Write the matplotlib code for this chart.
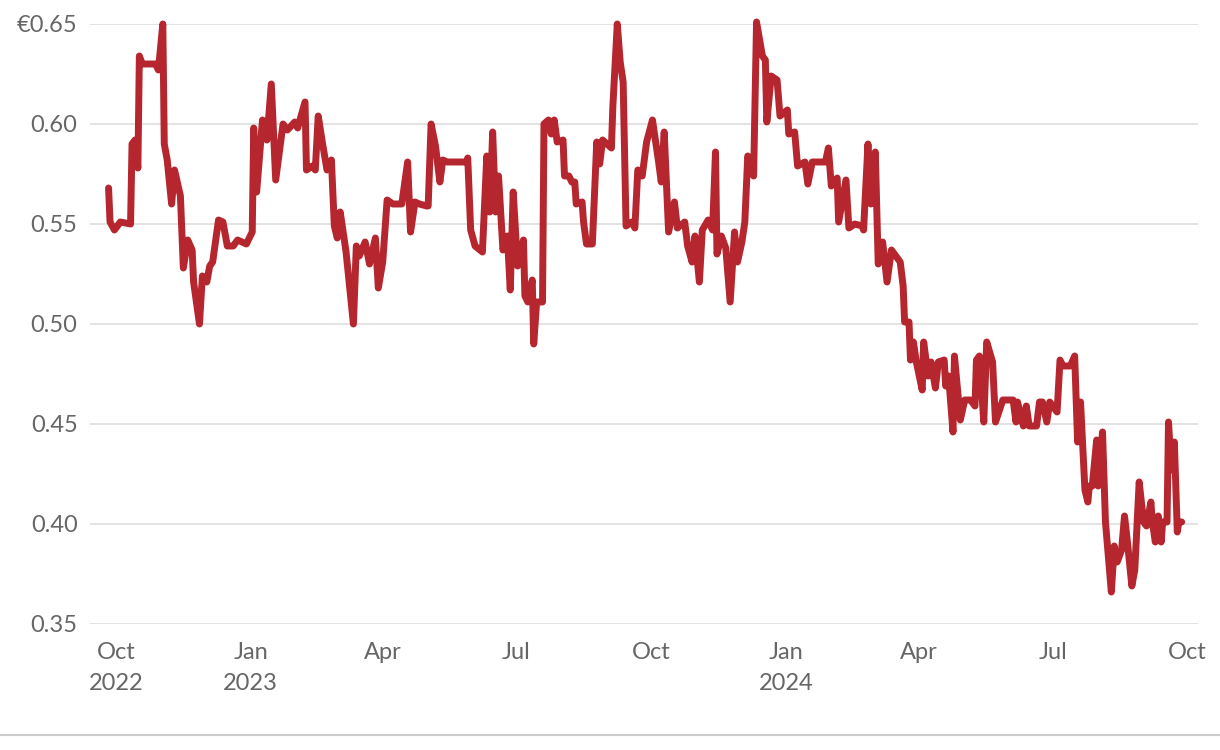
import matplotlib
matplotlib.use("Agg")
import matplotlib.pyplot as plt
import matplotlib.dates as mdates
from matplotlib.lines import Line2D
import pandas as pd

# price series
dates = [
    "2022-09-26", "2022-09-27", "2022-09-30", "2022-10-04", "2022-10-11", "2022-10-12", "2022-10-14",
    "2022-10-16", "2022-10-17", "2022-10-19", "2022-10-28", "2022-10-30", "2022-11-02", "2022-11-03",
    "2022-11-05", "2022-11-08", "2022-11-10", "2022-11-14", "2022-11-16", "2022-11-19", "2022-11-22",
    "2022-11-23", "2022-11-27", "2022-11-29", "2022-12-02", "2022-12-04", "2022-12-06", "2022-12-10",
    "2022-12-13", "2022-12-16", "2022-12-20", "2022-12-23", "2022-12-26", "2022-12-29",
    "2023-01-02", "2023-01-03", "2023-01-05", "2023-01-09", "2023-01-12", "2023-01-15", "2023-01-18",
    "2023-01-23", "2023-01-26", "2023-01-31", "2023-02-02", "2023-02-07", "2023-02-08", "2023-02-12",
    "2023-02-14", "2023-02-16", "2023-02-19", "2023-02-22", "2023-02-25", "2023-02-27", "2023-03-01",
    "2023-03-03", "2023-03-07", "2023-03-12", "2023-03-14", "2023-03-16", "2023-03-20", "2023-03-23",
    "2023-03-27", "2023-03-29", "2023-04-01", "2023-04-04", "2023-04-08", "2023-04-14", "2023-04-18",
    "2023-04-20", "2023-04-23", "2023-04-26", "2023-05-01", "2023-05-02", "2023-05-04", "2023-05-07",
    "2023-05-10", "2023-05-12", "2023-05-15", "2023-05-28", "2023-05-29", "2023-05-31", "2023-06-03",
    "2023-06-08", "2023-06-11", "2023-06-13", "2023-06-15", "2023-06-17", "2023-06-19", "2023-06-22",
    "2023-06-25", "2023-06-27", "2023-06-29", "2023-07-02", "2023-07-06", "2023-07-07", "2023-07-09",
    "2023-07-12", "2023-07-13", "2023-07-15", "2023-07-19", "2023-07-20", "2023-07-23", "2023-07-25",
    "2023-07-27", "2023-07-29", "2023-08-02", "2023-08-03", "2023-08-06", "2023-08-08", "2023-08-10",
    "2023-08-11", "2023-08-15", "2023-08-16", "2023-08-18", "2023-08-22", "2023-08-25", "2023-08-27",
    "2023-08-29", "2023-09-04", "2023-09-05", "2023-09-08", "2023-09-10", "2023-09-12", "2023-09-14",
    "2023-09-18", "2023-09-20", "2023-09-22", "2023-09-25", "2023-09-28", "2023-10-02", "2023-10-06",
    "2023-10-08", "2023-10-10", "2023-10-13", "2023-10-17", "2023-10-19", "2023-10-24", "2023-10-26",
    "2023-10-29", "2023-10-31", "2023-11-03", "2023-11-05", "2023-11-09", "2023-11-12", "2023-11-14",
    "2023-11-15", "2023-11-18", "2023-11-21", "2023-11-24", "2023-11-27", "2023-11-29", "2023-12-02",
    "2023-12-04", "2023-12-06", "2023-12-10", "2023-12-12", "2023-12-16", "2023-12-18", "2023-12-19",
    "2023-12-22", "2023-12-26", "2023-12-28",
    "2024-01-02", "2024-01-03", "2024-01-07", "2024-01-09", "2024-01-14", "2024-01-16", "2024-01-19",
    "2024-01-28", "2024-01-30", "2024-02-01", "2024-02-05", "2024-02-06", "2024-02-11", "2024-02-13",
    "2024-02-17", "2024-02-22", "2024-02-23", "2024-02-26", "2024-02-28", "2024-03-02", "2024-03-04",
    "2024-03-07", "2024-03-10", "2024-03-13", "2024-03-15", "2024-03-19", "2024-03-21", "2024-03-22",
    "2024-03-25", "2024-03-26", "2024-03-28", "2024-03-30", "2024-04-03", "2024-04-04", "2024-04-07",
    "2024-04-09", "2024-04-12", "2024-04-14", "2024-04-18", "2024-04-19", "2024-04-21", "2024-04-24",
    "2024-04-25", "2024-04-29", "2024-05-02", "2024-05-06", "2024-05-09", "2024-05-10", "2024-05-12",
    "2024-05-15", "2024-05-17", "2024-05-21", "2024-05-23", "2024-05-28", "2024-06-04", "2024-06-06",
    "2024-06-07", "2024-06-11", "2024-06-13", "2024-06-15", "2024-06-20", "2024-06-22", "2024-06-24",
    "2024-06-27", "2024-06-29", "2024-07-04", "2024-07-06", "2024-07-08", "2024-07-13", "2024-07-16",
    "2024-07-18", "2024-07-20", "2024-07-23", "2024-07-25", "2024-07-26", "2024-07-28", "2024-07-31",
    "2024-08-01", "2024-08-04", "2024-08-06", "2024-08-10", "2024-08-12", "2024-08-14", "2024-08-17",
    "2024-08-19", "2024-08-21", "2024-08-24", "2024-08-26", "2024-08-29", "2024-09-01", "2024-09-03",
    "2024-09-06", "2024-09-07", "2024-09-09", "2024-09-11", "2024-09-13", "2024-09-14", "2024-09-17",
    "2024-09-18", "2024-09-20", "2024-09-22", "2024-09-24", "2024-09-25", "2024-09-27",
]
price = [
    0.568, 0.551, 0.547, 0.551, 0.550, 0.590, 0.592,
    0.578, 0.634, 0.630, 0.630, 0.627, 0.650, 0.590,
    0.582, 0.560, 0.577, 0.564, 0.528, 0.542, 0.537,
    0.521, 0.500, 0.524, 0.521, 0.529, 0.531, 0.552,
    0.551, 0.539, 0.539, 0.542, 0.541, 0.540,
    0.546, 0.598, 0.566, 0.602, 0.592, 0.620, 0.572,
    0.600, 0.597, 0.601, 0.598, 0.611, 0.577, 0.579,
    0.577, 0.604, 0.590, 0.577, 0.582, 0.549, 0.543,
    0.556, 0.536, 0.500, 0.539, 0.534, 0.541, 0.530,
    0.543, 0.518, 0.531, 0.562, 0.560, 0.560, 0.581,
    0.546, 0.561, 0.560, 0.559, 0.559, 0.600, 0.589,
    0.571, 0.582, 0.581, 0.581, 0.583, 0.547, 0.539,
    0.536, 0.584, 0.556, 0.596, 0.556, 0.574, 0.537,
    0.544, 0.517, 0.566, 0.529, 0.542, 0.514, 0.511,
    0.522, 0.490, 0.511, 0.511, 0.600, 0.602, 0.595,
    0.602, 0.591, 0.592, 0.574, 0.574, 0.571, 0.571,
    0.560, 0.561, 0.551, 0.540, 0.540, 0.591, 0.580,
    0.592, 0.588, 0.609, 0.650, 0.631, 0.621, 0.549,
    0.551, 0.548, 0.577, 0.574, 0.591, 0.602, 0.582,
    0.571, 0.596, 0.546, 0.561, 0.548, 0.551, 0.539,
    0.531, 0.544, 0.521, 0.547, 0.552, 0.547, 0.586,
    0.535, 0.544, 0.538, 0.511, 0.546, 0.531, 0.541,
    0.551, 0.584, 0.574, 0.651, 0.634, 0.632, 0.601,
    0.624, 0.622, 0.604,
    0.607, 0.595, 0.596, 0.579, 0.581, 0.570, 0.581,
    0.581, 0.588, 0.569, 0.573, 0.551, 0.572, 0.548,
    0.550, 0.549, 0.547, 0.590, 0.560, 0.586, 0.530,
    0.541, 0.521, 0.537, 0.535, 0.531, 0.519, 0.501,
    0.501, 0.482, 0.491, 0.481, 0.467, 0.491, 0.474,
    0.481, 0.468, 0.481, 0.482, 0.469, 0.474, 0.446,
    0.484, 0.452, 0.462, 0.462, 0.459, 0.482, 0.484,
    0.451, 0.491, 0.481, 0.451, 0.462, 0.462, 0.451,
    0.461, 0.449, 0.459, 0.449, 0.449, 0.461, 0.461,
    0.451, 0.461, 0.456, 0.482, 0.479, 0.479, 0.484,
    0.441, 0.461, 0.417, 0.411, 0.419, 0.419, 0.442,
    0.419, 0.446, 0.401, 0.366, 0.389, 0.381, 0.387,
    0.404, 0.391, 0.369, 0.377, 0.421, 0.401, 0.399,
    0.411, 0.401, 0.391, 0.404, 0.391, 0.401, 0.401,
    0.451, 0.427, 0.441, 0.396, 0.401, 0.401,
]

tick_dates = ["2022-10-01", "2023-01-01", "2023-04-01", "2023-07-01", "2023-10-01",
              "2024-01-01", "2024-04-01", "2024-07-01", "2024-10-01"]
tick_labels = ["Oct\n2022", "Jan\n2023", "Apr", "Jul", "Oct", "Jan\n2024", "Apr", "Jul", "Oct"]
y_ticks = [0.35, 0.40, 0.45, 0.50, 0.55, 0.60, 0.65]
y_labels = ["0.35", "0.40", "0.45", "0.50", "0.55", "0.60", "€0.65"]

plt.rcParams['font.family'] = ['Lato', 'DejaVu Sans']
grey = '#666666'

fig = plt.figure(figsize=(12.2, 7.5), dpi=100)
ax = fig.add_axes([90 / 1220, 126 / 750, 1108 / 1220, 600 / 750])

x = pd.to_datetime(dates)
ax.plot(x, price, color='#b5262e', lw=5.0, solid_joinstyle='round',
        solid_capstyle='round', clip_on=False, zorder=3)

ax.set_ylim(0.35, 0.65)
ax.set_xlim(mdates.date2num(pd.Timestamp("2022-09-13 08:00")),
            mdates.date2num(pd.Timestamp("2024-10-08 03:00")))

ax.set_yticks(y_ticks)
ax.set_yticklabels(y_labels)
ax.set_xticks(pd.to_datetime(tick_dates))
ax.set_xticklabels(tick_labels, linespacing=1.6)

ax.grid(axis='y', color='#e3e3e3', lw=1.4)
ax.grid(axis='x', visible=False)
ax.set_axisbelow(True)
for s in ax.spines.values():
    s.set_visible(False)
ax.tick_params(axis='both', length=0, labelsize=17, labelcolor=grey)
ax.tick_params(axis='y', pad=9)
ax.tick_params(axis='x', pad=13)

# thin rule under the chart
fig.add_artist(Line2D([0, 1], [15 / 750, 15 / 750], color='#cccccc', lw=1.5,
                      transform=fig.transFigure))

fig.savefig("out.png", dpi=100, facecolor='white')
